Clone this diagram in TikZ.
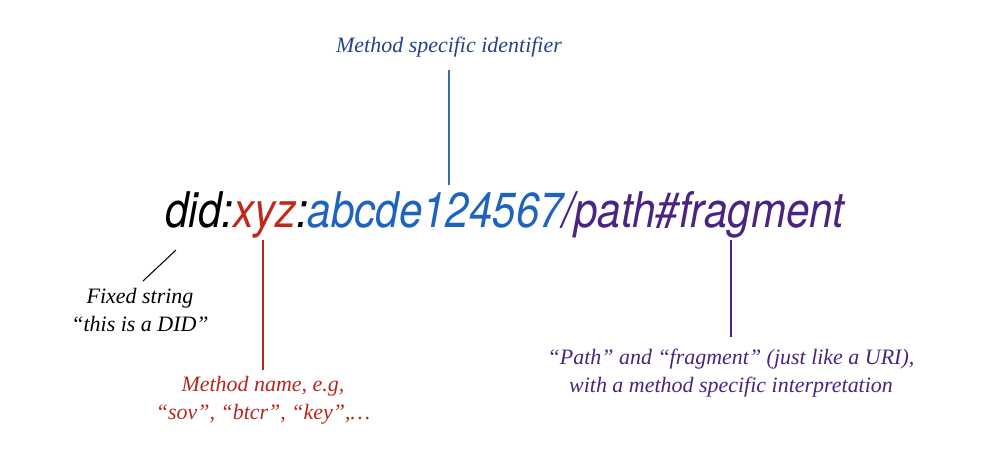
\documentclass[tikz,border=0pt]{standalone}
\usepackage{fontspec}
\setmainfont{Liberation Serif}
\newfontfamily\helv{TeX Gyre Heros}
\definecolor{cred}{HTML}{C0281A}
\definecolor{cblue}{HTML}{1E63C0}
\definecolor{cpurple}{HTML}{4A2480}
\definecolor{lblue}{HTML}{22438A}
\definecolor{lineblue}{HTML}{3D6BA6}
\definecolor{lred}{HTML}{B5281E}
\definecolor{lpurple}{HTML}{4A2480}
\begin{document}
\begin{tikzpicture}[x=0.02cm,y=-0.02cm,
  lbl/.style={font=\itshape\fontsize{12.5}{15.9}\selectfont, align=center, inner sep=0pt},
  conn/.style={line width=0.6pt}]
\useasboundingbox (0,0) rectangle (1000,474);
\node[anchor=base west, inner sep=0pt, font=\helv\itshape\fontsize{28}{30}\selectfont] (did) at (165,227)
  {\scalebox{0.855}[1]{did:\textcolor{cred}{xyz}:\textcolor{cblue}{abcde124567}\textcolor{cpurple}{/path\#fragment}}};
\node[lbl, text=lblue] (msi) at (449,47) {Method specific identifier};
\node[lbl, text=black, anchor=north] (fixed) at (140,288) {Fixed string\\“this is a DID”};
\node[lbl, text=lred, anchor=north] (mname) at (263,376) {Method name, e.g,\\“sov”, “btcr”, “key”,\dots};
\node[lbl, text=lpurple, anchor=north] (pathf) at (731,349) {“Path” and “fragment” (just like a URI),\\with a method specific interpretation};
\coordinate (c0) at (449,70);
\coordinate (c1) at (449,185);
\coordinate (c2) at (176,250);
\coordinate (e2) at (143,281);
\coordinate (c3) at (263,240);
\coordinate (e3) at (263,370);
\coordinate (c4) at (731,240);
\coordinate (e4) at (731,337);
\draw[conn, lineblue] (c0) -- (c1);
\draw[conn, black] (c2) -- (e2);
\draw[conn, lred] (c3) -- (e3);
\draw[conn, lpurple] (c4) -- (e4);
\end{tikzpicture}
\end{document}
